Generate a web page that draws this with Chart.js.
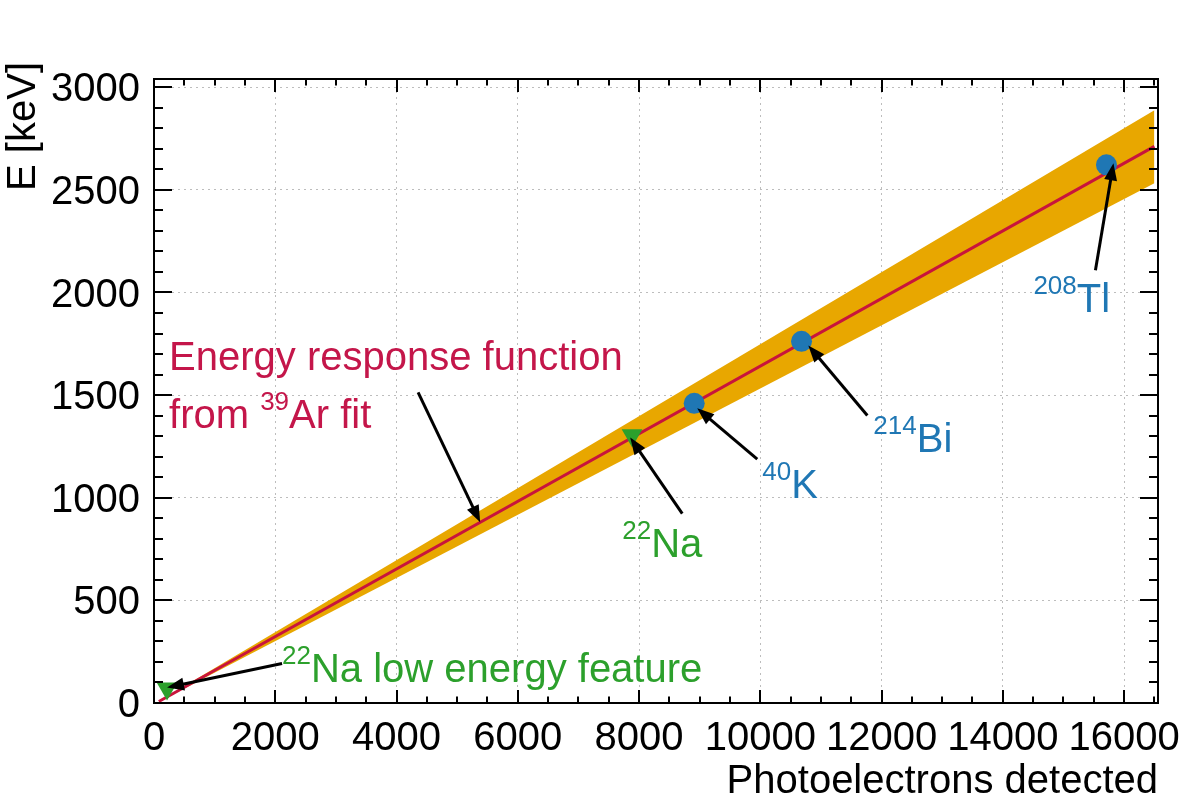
<!DOCTYPE html>
<html>
<head>
<meta charset="utf-8">
<script src="https://cdn.jsdelivr.net/npm/chart.js@4/dist/chart.umd.min.js"></script>
<style>
  body { margin: 0; background: #fff; }
  canvas { display: block; }
</style>
</head>
<body>
<canvas id="calib" width="1182" height="800"></canvas>
<script>
// fit line and its error band
const fitPE = [80, 16500];
const fitE = [7, 2712];
const bandHigh = [8, 2888];
const bandLow = [6, 2532];

// gamma lines (circles) and 22Na features (down triangles)
const peakPE = [8910, 10680, 15710];
const peakE = [1460, 1762, 2622];
const naPE = [215, 7885];
const naE = [71, 1304];

const xTicks = [0, 2000, 4000, 6000, 8000, 10000, 12000, 14000, 16000];
const yTicks = [0, 500, 1000, 1500, 2000, 2500, 3000];
const xMax = 16560, yMax = 3040;
const xMinor = 500, yMinor = 100;

// labels: text with ^{..} superscripts, anchor (left, baseline) and arrow tail -> head, in data units
const labelText = ['Energy response function', 'from ^{39}Ar fit', '^{22}Na', '^{40}K', '^{214}Bi', '^{208}Tl', '^{22}Na low energy feature'];
const labelPE = [248, 248, 7723, 10033, 11865, 14505, 2112];
const labelE = [1620, 1338, 709, 1001, 1221, 1903, 100];
const labelColor = ['#c4164a', '#c4164a', '#2ca02c', '#1f77b4', '#1f77b4', '#1f77b4', '#2ca02c'];
const arrowFromPE = [4356, 8713, 9950, 11766, 15528, 2112];
const arrowFromE = [1513, 923, 1188, 1401, 2108, 192];
const arrowToPE = [5380, 7855, 8960, 10792, 15825, 215];
const arrowToE = [880, 1293, 1436, 1742, 2629, 75];

const FONT = '"Liberation Sans", Arial, sans-serif';
const pts = (xs, ys) => xs.map((v, i) => ({x: v, y: ys[i]}));

function drawRich(ctx, str, px, py, color) {
  const parts = str.split(/\^\{(\d+)\}/);
  let cx = px;
  ctx.fillStyle = color;
  ctx.textBaseline = 'alphabetic';
  ctx.textAlign = 'left';
  parts.forEach((p, i) => {
    if (!p) return;
    const sup = i % 2 === 1;
    ctx.font = (sup ? '26px ' : '40px ') + FONT;
    ctx.fillText(p, cx, sup ? py - 18 : py);
    cx += ctx.measureText(p).width;
  });
}

function arrow(ctx, x1, y1, x2, y2) {
  const ang = Math.atan2(y2 - y1, x2 - x1);
  const hl = 17, hw = 6.5;
  ctx.strokeStyle = '#000';
  ctx.fillStyle = '#000';
  ctx.lineWidth = 3;
  ctx.beginPath();
  ctx.moveTo(x1, y1);
  ctx.lineTo(x2 - Math.cos(ang) * hl * 0.8, y2 - Math.sin(ang) * hl * 0.8);
  ctx.stroke();
  ctx.beginPath();
  ctx.moveTo(x2, y2);
  ctx.lineTo(x2 - Math.cos(ang) * hl + Math.sin(ang) * hw, y2 - Math.sin(ang) * hl - Math.cos(ang) * hw);
  ctx.lineTo(x2 - Math.cos(ang) * hl - Math.sin(ang) * hw, y2 - Math.sin(ang) * hl + Math.cos(ang) * hw);
  ctx.closePath();
  ctx.fill();
}

const decorations = {
  id: 'decorations',
  afterDraw(chart) {
    const {ctx, chartArea: a, scales: {x, y}} = chart;
    ctx.save();
    // frame and inward ticks on all four sides
    ctx.strokeStyle = '#000';
    ctx.lineWidth = 2;
    ctx.beginPath();
    for (let v = 0; v <= xMax; v += xMinor) {
      const px = Math.round(x.getPixelForValue(v));
      const len = v % 2000 === 0 ? 13 : 6.5;
      ctx.moveTo(px, a.bottom); ctx.lineTo(px, a.bottom - len);
      ctx.moveTo(px, a.top); ctx.lineTo(px, a.top + len);
    }
    for (let v = 0; v <= yMax; v += yMinor) {
      const py = Math.round(y.getPixelForValue(v));
      const len = v % 500 === 0 ? 18 : 9;
      ctx.moveTo(a.left, py); ctx.lineTo(a.left + len, py);
      ctx.moveTo(a.right, py); ctx.lineTo(a.right - len, py);
    }
    ctx.stroke();
    ctx.strokeRect(a.left, a.top, a.right - a.left, a.bottom - a.top);

    // arrows and labels
    arrowFromPE.forEach((v, i) => {
      arrow(ctx, x.getPixelForValue(v), y.getPixelForValue(arrowFromE[i]),
        x.getPixelForValue(arrowToPE[i]), y.getPixelForValue(arrowToE[i]));
    });
    labelText.forEach((t, i) => {
      drawRich(ctx, t, x.getPixelForValue(labelPE[i]), y.getPixelForValue(labelE[i]), labelColor[i]);
    });

    // axis titles, aligned to the axis ends
    ctx.fillStyle = '#000';
    ctx.font = '40px ' + FONT;
    ctx.textAlign = 'right';
    ctx.textBaseline = 'alphabetic';
    ctx.fillText('Photoelectrons detected', a.right, 793);
    ctx.translate(35, 62);
    ctx.rotate(-Math.PI / 2);
    ctx.fillText('E [keV]', 0, 0);
    ctx.restore();
  }
};

const keepMajor = list => scale => {
  scale.ticks = list.map(v => ({value: v}));
};

new Chart(document.getElementById('calib'), {
  type: 'scatter',
  data: {
    datasets: [
      {
        data: pts(peakPE, peakE),
        backgroundColor: '#1f77b4',
        borderWidth: 0,
        pointRadius: 10.5,
        pointHoverRadius: 10.5,
        order: 0
      },
      {
        data: pts(naPE, naE),
        backgroundColor: '#2ca02c',
        borderWidth: 0,
        pointStyle: 'triangle',
        pointRotation: 180,
        pointRadius: 12,
        pointHoverRadius: 12,
        order: 0
      },
      {
        data: pts(fitPE, fitE),
        showLine: true,
        borderColor: '#c8143c',
        borderWidth: 3,
        pointRadius: 0,
        order: 1
      },
      {
        data: pts(fitPE, bandHigh),
        showLine: true,
        borderWidth: 0,
        pointRadius: 0,
        backgroundColor: '#e8a700',
        fill: '+1',
        order: 2
      },
      {
        data: pts(fitPE, bandLow),
        showLine: true,
        borderWidth: 0,
        pointRadius: 0,
        order: 2
      }
    ]
  },
  options: {
    responsive: false,
    animation: false,
    layout: {padding: {left: 0, right: 24, top: 79, bottom: 0}},
    plugins: {legend: {display: false}, tooltip: {enabled: false}},
    scales: {
      x: {
        type: 'linear',
        min: 0,
        max: xMax,
        afterBuildTicks: keepMajor(xTicks),
        afterFit: s => { s.height = 97; s.paddingLeft = 0; s.paddingRight = 0; },
        grid: {color: '#bdbdbd', lineWidth: 1, drawTicks: false},
        border: {display: false, dash: [2, 4]},
        ticks: {color: '#000', font: {family: FONT, size: 40}, padding: 12, maxRotation: 0, autoSkip: false,
          callback: v => String(v)}
      },
      y: {
        type: 'linear',
        min: 0,
        max: yMax,
        afterBuildTicks: keepMajor(yTicks),
        afterFit: s => { s.width = 154; s.paddingTop = 0; s.paddingBottom = 0; },
        grid: {color: '#bdbdbd', lineWidth: 1, drawTicks: false},
        border: {display: false, dash: [2, 4]},
        ticks: {color: '#000', font: {family: FONT, size: 40}, padding: 14, labelOffset: 3, autoSkip: false,
          callback: v => String(v)}
      }
    }
  },
  plugins: [decorations]
});
</script>
</body>
</html>
